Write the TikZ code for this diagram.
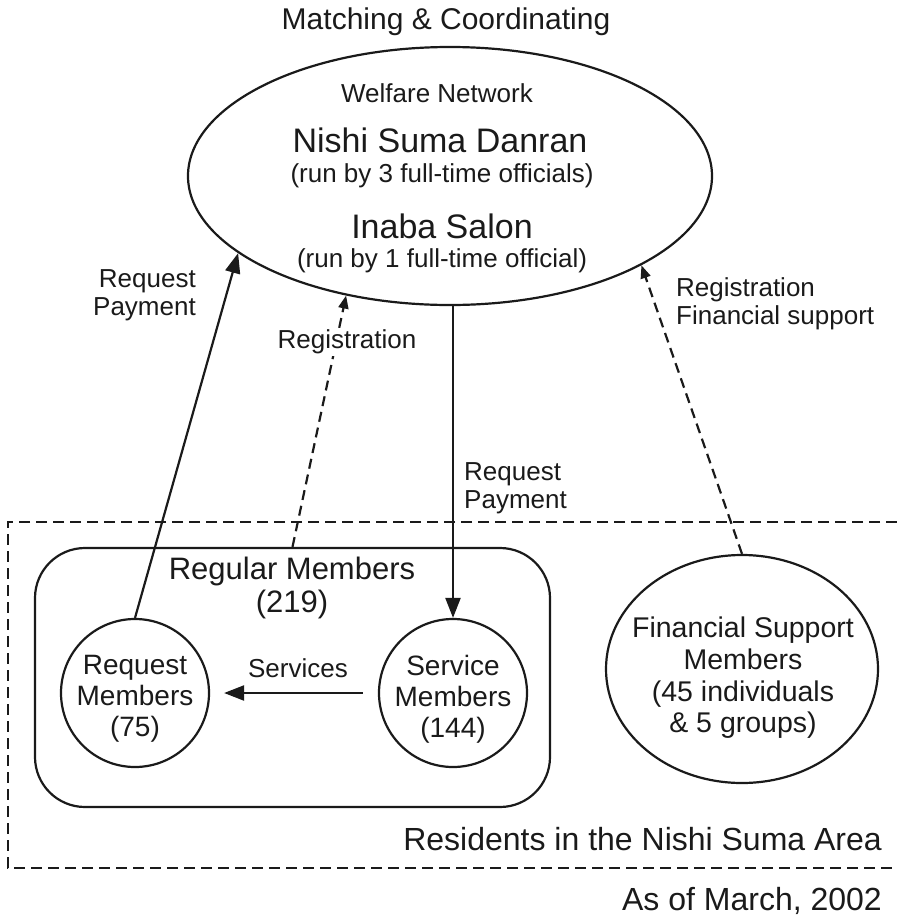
\documentclass[tikz,border=0pt]{standalone}
\usepackage{fontspec}
\setmainfont{Liberation Sans}
\usetikzlibrary{shapes.geometric,arrows.meta}
\definecolor{ink}{HTML}{1A1A1A}
\begin{document}
\begin{tikzpicture}[x=1pt,y=-1pt,
  shapeline/.style={draw=ink, line width=2.2pt},
  lbl/.style={font=\fontsize{26pt}{28pt}\selectfont, text=ink, inner sep=0pt, align=center},
  biglbl/.style={font=\fontsize{34pt}{36pt}\selectfont, text=ink, inner sep=0pt},
  memlbl/.style={font=\fontsize{28pt}{31pt}\selectfont, text=ink, inner sep=0pt, align=center},
  areatxt/.style={font=\fontsize{32pt}{34pt}\selectfont, text=ink, inner sep=0pt},
  solidarrow/.style={draw=ink, line width=2.2pt, -{Triangle[length=20pt,width=15pt]}},
  dasharrow/.style={draw=ink, line width=2.2pt, dash pattern=on 10pt off 6pt, -{Triangle[length=13pt,width=10pt]}},
  dashbox/.style={draw=ink, line width=2.4pt, dash pattern=on 11pt off 6pt}
]
\useasboundingbox (0,0) rectangle (897,916);

% dashed area frame
\coordinate (dtr) at (897,522);
\coordinate (dtl) at (8,522);
\coordinate (dbl) at (8,868);
\coordinate (dbr) at (897,868);
\draw[dashbox] (dtr) -- (dtl) -- (dbl) -- (dbr);

% main ellipse
\node[ellipse, shapeline, inner sep=0pt, minimum width=524pt, minimum height=258pt] (net) at (450,176) {};
\node[font=\fontsize{30pt}{32pt}\selectfont, text=ink, inner sep=0pt] (title) at (446,22) {Matching \& Coordinating};
\node[lbl] (welfare) at (437,93) {Welfare Network};
\node[biglbl] (nsd) at (440,140) {Nishi Suma Danran};
\node[lbl] (nsdsub) at (442,176) {(run by 3 full-time officials)};
\node[biglbl] (inaba) at (442,226) {Inaba Salon};
\node[lbl] (inabasub) at (442,261) {(run by 1 full-time official)};

% regular members box
\node[shapeline, rounded corners=50pt, minimum width=515pt, minimum height=259pt, inner sep=0pt] (reg) at (292.5,677.5) {};
\node[font=\fontsize{31pt}{33pt}\selectfont, text=ink, inner sep=0pt, align=center] (regtxt) at (292,588) {Regular Members\\(219)};

\node[circle, shapeline, minimum size=148pt, inner sep=0pt] (req) at (135,693) {};
\node[memlbl] (reqtxt) at (135,699) {Request\\Members\\(75)};
\node[circle, shapeline, minimum size=148pt, inner sep=0pt] (svc) at (453,693) {};
\node[memlbl] (svctxt) at (453,699) {Service\\Members\\(144)};

\node[ellipse, shapeline, inner sep=0pt, minimum width=272pt, minimum height=228pt] (fs) at (742,669) {};
\node[font=\fontsize{28.5pt}{31.7pt}\selectfont, text=ink, inner sep=0pt, align=center] (fstxt) at (743,678) {Financial Support\\Members\\(45 individuals\\\& 5 groups)};

% connectors
\draw[solidarrow] (req.north) -- (net.200);
\draw[dasharrow] (reg.north) -- (net.229);
\draw[solidarrow] (svc.north |- net.south) -- (svc.north);
\draw[dasharrow] (fs.north) -- (net.335.6);
\draw[solidarrow, shorten <=15pt, shorten >=14pt] (svc.west) -- (req.east);

% labels
\node[lbl, align=right, anchor=east] (lreq) at (196,295) {Request\\Payment};
\node[lbl, fill=white, inner sep=2pt] (lreg) at (347,342) {Registration};
\node[lbl, align=left, anchor=west] (rreq) at (464,488) {Request\\Payment};
\node[lbl, align=left, anchor=west] (rfs) at (676,304) {Registration\\Financial support};
\node[lbl] (lsvc) at (298,668) {Services};

\node[areatxt, anchor=base east] (area) at (882,850) {Residents in the Nishi Suma Area};
\node[areatxt, anchor=base east] (date) at (882,910) {As of March, 2002};
\end{tikzpicture}
\end{document}
